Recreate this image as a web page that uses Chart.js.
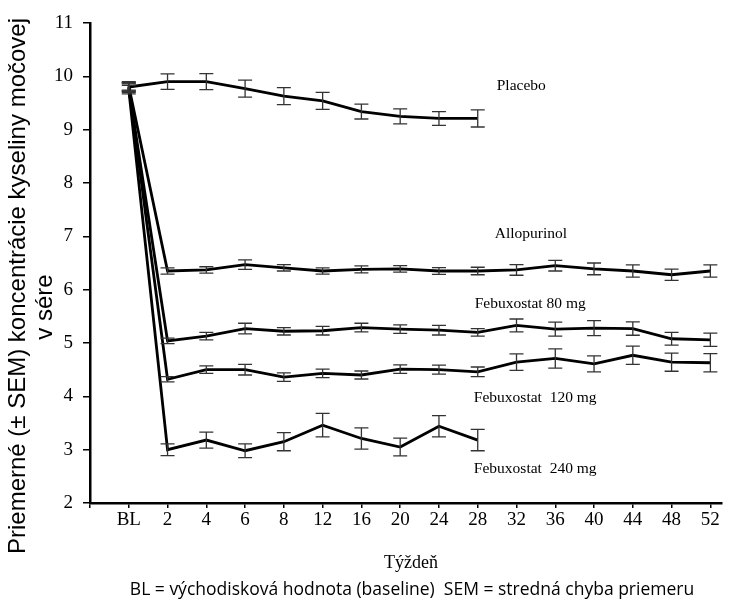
<!DOCTYPE html>
<html>
<head>
<meta charset="utf-8">
<script src="https://cdn.jsdelivr.net/npm/chart.js@4"></script>
<style>
  body { margin: 0; background: #fff; }
  #wrap { width: 742px; height: 603px; }
</style>
</head>
<body>
<div id="wrap"><canvas id="uricChart"></canvas></div>
<script>
// week labels on the x axis (BL = baseline)
const weeks = ['BL', '2', '4', '6', '8', '12', '16', '20', '24', '28', '32', '36', '40', '44', '48', '52'];
const yTicks = [2, 3, 4, 5, 6, 7, 8, 9, 10, 11];

// mean serum urate and SEM per group
const placebo = [9.80, 9.90, 9.90, 9.77, 9.63, 9.54, 9.34, 9.25, 9.21, 9.21];
const placeboSem = [0.08, 0.145, 0.15, 0.16, 0.16, 0.16, 0.14, 0.14, 0.13, 0.16];
const allopurinol = [9.82, 6.35, 6.37, 6.47, 6.41, 6.35, 6.38, 6.39, 6.35, 6.35, 6.37, 6.45, 6.39, 6.35, 6.28, 6.35];
const allopurinolSem = [0.08, 0.06, 0.06, 0.09, 0.06, 0.06, 0.065, 0.06, 0.065, 0.07, 0.1, 0.1, 0.11, 0.115, 0.105, 0.115];
const febux80 = [9.78, 5.04, 5.13, 5.27, 5.22, 5.23, 5.29, 5.26, 5.24, 5.20, 5.33, 5.26, 5.28, 5.27, 5.08, 5.06];
const febux80Sem = [0.08, 0.05, 0.07, 0.1, 0.07, 0.08, 0.08, 0.08, 0.09, 0.07, 0.12, 0.13, 0.14, 0.125, 0.12, 0.125];
const febux120 = [9.80, 4.32, 4.50, 4.50, 4.36, 4.43, 4.40, 4.51, 4.50, 4.46, 4.64, 4.71, 4.61, 4.77, 4.64, 4.63];
const febux120Sem = [0.08, 0.05, 0.07, 0.1, 0.08, 0.08, 0.075, 0.08, 0.085, 0.09, 0.155, 0.18, 0.15, 0.17, 0.17, 0.17];
const febux240 = [9.75, 3.00, 3.18, 2.98, 3.15, 3.46, 3.21, 3.05, 3.44, 3.18];
const febux240Sem = [0.08, 0.11, 0.15, 0.13, 0.17, 0.22, 0.2, 0.165, 0.2, 0.2];

const groupNames = ['Placebo', 'Allopurinol', 'Febuxostat 80 mg', 'Febuxostat  120 mg', 'Febuxostat  240 mg'];
// where each group name sits, in axis units (x = week index, y = value)
const nameSpots = [[10.49, 9.82], [10.44, 7.04], [9.92, 5.73], [9.9, 3.97], [9.9, 2.64]];

// week index 1 = BL, index 0 is the empty slot at the axis origin
function toPoints(vals) {
  return vals.map((v, i) => ({ x: i + 1, y: v }));
}

function makeSet(name, vals, sem) {
  return {
    label: name,
    data: toPoints(vals),
    sem: sem,
    borderColor: '#000',
    borderWidth: 2.8,
    pointRadius: 0,
    tension: 0,
    fill: false
  };
}

const errorBars = {
  id: 'errorBars',
  afterDatasetsDraw(chart) {
    const ctx = chart.ctx;
    const xs = chart.scales.x, ys = chart.scales.y;
    ctx.save();
    ctx.strokeStyle = '#333';
    ctx.lineWidth = 1.3;
    chart.data.datasets.forEach(ds => {
      ds.data.forEach((p, i) => {
        const px = xs.getPixelForValue(p.x);
        const top = ys.getPixelForValue(p.y + ds.sem[i]);
        const bot = ys.getPixelForValue(p.y - ds.sem[i]);
        ctx.beginPath();
        ctx.moveTo(px, top); ctx.lineTo(px, bot);
        ctx.moveTo(px - 7, top); ctx.lineTo(px + 7, top);
        ctx.moveTo(px - 7, bot); ctx.lineTo(px + 7, bot);
        ctx.stroke();
      });
    });
    ctx.restore();
  }
};

const texts = {
  id: 'texts',
  afterDraw(chart) {
    const ctx = chart.ctx;
    const xs = chart.scales.x, ys = chart.scales.y;
    ctx.save();
    ctx.fillStyle = '#000';
    ctx.textBaseline = 'middle';

    // group names next to the curves
    ctx.font = '15.5px "Liberation Serif"';
    ctx.textAlign = 'left';
    groupNames.forEach((n, i) => {
      ctx.fillText(n, xs.getPixelForValue(nameSpots[i][0]), ys.getPixelForValue(nameSpots[i][1]));
    });

    // x title and footnote
    ctx.textAlign = 'center';
    ctx.font = '18px "Liberation Serif"';
    ctx.fillText('Týždeň', 411, 563);
    ctx.font = '17.5px "Open Sans"';
    ctx.fillText('BL = východisková hodnota (baseline)  SEM = stredná chyba priemeru', 412, 590);

    // y title, two lines (rotated)
    ctx.font = '24px "Liberation Sans"';
    ctx.textBaseline = 'alphabetic';
    ctx.save();
    ctx.translate(25, 286);
    ctx.rotate(-Math.PI / 2);
    ctx.fillText('Priemerné (± SEM) koncentrácie kyseliny močovej', 0, 0);
    ctx.restore();
    ctx.translate(52, 307);
    ctx.rotate(-Math.PI / 2);
    ctx.fillText('v sére', 0, 0);
    ctx.restore();
  }
};

new Chart(document.getElementById('uricChart'), {
  type: 'line',
  data: {
    datasets: [
      makeSet(groupNames[0], placebo, placeboSem),
      makeSet(groupNames[1], allopurinol, allopurinolSem),
      makeSet(groupNames[2], febux80, febux80Sem),
      makeSet(groupNames[3], febux120, febux120Sem),
      makeSet(groupNames[4], febux240, febux240Sem)
    ]
  },
  options: {
    responsive: true,
    maintainAspectRatio: false,
    animation: false,
    layout: { padding: { left: 0, top: 23, right: 20, bottom: 0 } },
    plugins: { legend: { display: false }, tooltip: { enabled: false } },
    scales: {
      x: {
        type: 'linear',
        min: 0,
        max: 16.3,
        afterFit: s => { s.height = 100; },
        grid: { drawOnChartArea: false, drawTicks: true, tickLength: 5, color: '#000', lineWidth: 1.5 },
        border: { color: '#000', width: 2.5 },
        ticks: {
          stepSize: 1,
          includeBounds: false,
          autoSkip: false,
          maxRotation: 0,
          padding: 1,
          color: '#000',
          font: { family: 'Liberation Serif', size: 19 },
          callback: v => (v >= 1 && v <= weeks.length ? weeks[v - 1] : '')
        }
      },
      y: {
        min: yTicks[0],
        max: yTicks[yTicks.length - 1],
        afterFit: s => { s.width = 90; },
        grid: { drawOnChartArea: false, drawTicks: true, tickLength: 7, color: '#000', lineWidth: 1.5 },
        border: { color: '#000', width: 2.5 },
        ticks: {
          stepSize: 1,
          padding: 10,
          color: '#000',
          font: { family: 'Liberation Serif', size: 19 }
        }
      }
    }
  },
  plugins: [errorBars, texts]
});
</script>
</body>
</html>
